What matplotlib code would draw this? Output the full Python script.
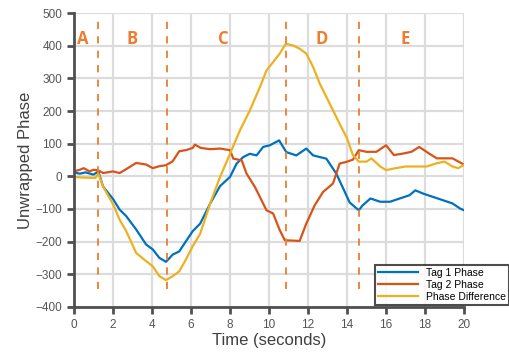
import matplotlib
matplotlib.use('Agg')
import matplotlib.pyplot as plt

plt.rcParams['font.family'] = ['Liberation Sans', 'DejaVu Sans']

# ── data ──────────────────────────────────────────────────────────────────────

tag1_t = [0, 0.3, 0.6, 1.0, 1.25, 1.49, 2.02, 2.34, 2.68, 3.19, 3.7, 4.04, 4.38, 4.72,
          5.06, 5.4, 5.74, 6.09, 6.47, 6.98, 7.49, 8.0, 8.34, 8.68, 9.02, 9.36, 9.7,
          10.04, 10.52, 10.72, 10.89, 11.4, 11.91, 12.26, 12.94, 13.45, 13.8, 14.13,
          14.5, 14.6, 14.8, 15.2, 15.7, 16.2, 16.7, 17.2, 17.5, 17.9, 18.4, 18.9,
          19.4, 19.8, 20]
tag1_v = [12, 8, 12, 5, 15, -31, -71, -102, -122, -163, -209, -224, -250, -262,
          -240, -230, -199, -168, -145, -84, -30, -2, 39, 59, 69, 64, 90,
          95, 110, 90, 74, 64, 85, 64, 54, 8, -37, -80,
          -99, -104, -89, -68, -78, -78, -68, -58, -43, -53, -63, -73,
          -83, -99, -104]

tag2_t = [0, 0.3, 0.5, 0.8, 1.0, 1.25, 1.5, 2.0, 2.34, 2.68, 3.19, 3.7, 4.04, 4.38,
          4.72, 5.06, 5.4, 5.74, 6.09, 6.2, 6.5, 6.98, 7.49, 8.0, 8.17, 8.6, 8.85,
          9.28, 9.87, 10.21, 10.55, 10.81, 11.57, 11.91, 12.34, 12.77, 13.28, 13.62,
          13.96, 14.3, 14.6, 15.0, 15.5, 16.0, 16.4, 16.9, 17.3, 17.7, 18.2, 18.6,
          19.0, 19.4, 19.9, 20]
tag2_v = [15, 20, 25, 15, 20, 18, 10, 15, 10, 22, 41, 36, 25, 31,
          34, 46, 77, 80, 87, 97, 87, 83, 85, 80, 54, 49, 8,
          -33, -104, -114, -165, -196, -198, -145, -89, -48, -22, 39,
          44, 51, 80, 75, 75, 95, 65, 70, 75, 90, 70, 55,
          55, 55, 39, 35]

diff_t = [0, 0.5, 1.1, 1.25, 1.49, 2.02, 2.34, 2.68, 3.19, 3.7, 4.04, 4.38, 4.72,
          5.06, 5.4, 5.74, 6.09, 6.47, 6.98, 7.49, 8.0, 8.51, 9.02, 9.53, 9.87, 10.21,
          10.55, 10.86, 11.23, 11.57, 11.91, 12.26, 12.6, 12.94, 13.28, 13.62, 14.0,
          14.3, 14.6, 15.0, 15.25, 15.7, 16.0, 16.5, 17.0, 17.55, 18.07, 18.6, 19.0,
          19.4, 19.7, 20]
diff_v = [-2, -4, -5, 8, -31, -87, -133, -168, -235, -260, -276, -306, -318,
          -306, -291, -255, -214, -176, -84, -2, 69, 141, 202, 273, 324, 350,
          376, 406, 401, 391, 376, 335, 284, 243, 202, 161, 116,
          65, 45, 45, 55, 30, 19, 25, 30, 30, 30, 40, 45,
          30, 25, 35]

series_names = ['Tag 1 Phase', 'Tag 2 Phase', 'Phase Difference']
series_colors = ['#0072BD', '#D95319', '#EDB120']

phase_bounds = [1.25, 4.75, 10.85, 14.6]
phase_labels = ['A', 'B', 'C', 'D', 'E']
phase_label_t = [0.45, 3.0, 7.65, 12.7, 17.0]

# ── plot ──────────────────────────────────────────────────────────────────────

fig = plt.figure(figsize=(5.1, 3.64), dpi=100)
ax = fig.add_axes([0.145, 0.157, 0.765, 0.807])

axis_gray = '#505050'
ax.grid(True, color='#dcdcdc', linewidth=1.6)
ax.set_axisbelow(True)

for (t, v), name, col in zip([(tag1_t, tag1_v), (tag2_t, tag2_v), (diff_t, diff_v)],
                             series_names, series_colors):
    ax.plot(t, v, color=col, linewidth=1.6, label=name)

orange = '#ED7D31'
ax.vlines(phase_bounds, -345, 475, colors=orange, linestyles=(0, (4, 4)), linewidth=1.3)
for lab, t in zip(phase_labels, phase_label_t):
    ax.text(t, 420, lab, color=orange, fontsize=12, fontweight='bold',
            family=['Open Sans', 'DejaVu Sans'], ha='center', va='center')

ax.set_xlim(0, 20)
ax.set_ylim(-400, 500)
ax.set_xticks(range(0, 21, 2))
ax.set_yticks(range(-400, 501, 100))

for side in ['top', 'right']:
    ax.spines[side].set_visible(False)
for side in ['left', 'bottom']:
    ax.spines[side].set_color(axis_gray)
    ax.spines[side].set_linewidth(2)
ax.tick_params(direction='out', length=5, width=2, color=axis_gray,
               labelcolor='#555555', labelsize=8.5)

ax.set_xlabel('Time (seconds)', fontsize=12, color='#404040', labelpad=2)
ax.set_ylabel('Unwrapped Phase', fontsize=12, color='#404040', labelpad=2)

leg = fig.legend(loc='lower right', bbox_to_anchor=(0.999, 0.162), fontsize=7.5,
                 frameon=True, fancybox=False, borderpad=0.3, handlelength=3.8,
                 labelspacing=0.2, borderaxespad=0)
leg.get_frame().set_edgecolor('#202020')
leg.get_frame().set_linewidth(1.5)

fig.savefig('out.png', dpi=100)
plt.close(fig)
